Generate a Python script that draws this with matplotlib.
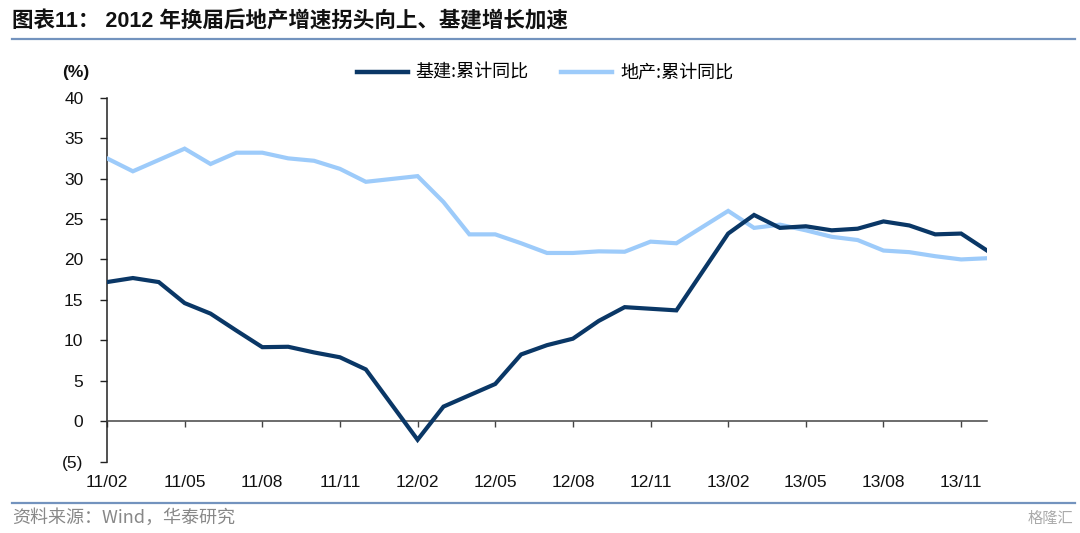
import numpy as np
import matplotlib
matplotlib.use("Agg")
import matplotlib.pyplot as plt
from matplotlib.lines import Line2D

plt.rcParams['font.family'] = ['Liberation Sans', 'Noto Sans CJK SC', 'DejaVu Sans']

# Monthly positions 11/02 .. 13/12 (January values not published -> NaN)
months = ['11/02','11/03','11/04','11/05','11/06','11/07','11/08','11/09','11/10','11/11','11/12',
          '12/01','12/02','12/03','12/04','12/05','12/06','12/07','12/08','12/09','12/10','12/11','12/12',
          '13/01','13/02','13/03','13/04','13/05','13/06','13/07','13/08','13/09','13/10','13/11','13/12']
infra = [17.2, 17.7, 17.2, 14.6, 13.3, 11.2, 9.15, 9.2, 8.5, 7.9, 6.4,
         np.nan, -2.3, 1.8, 3.2, 4.6, 8.25, 9.4, 10.2, 12.4, 14.1, 13.9, 13.7,
         np.nan, 23.2, 25.5, 23.9, 24.1, 23.6, 23.8, 24.7, 24.2, 23.1, 23.2, 21.1]
realty = [32.5, 30.9, 32.3, 33.7, 31.8, 33.2, 33.2, 32.5, 32.2, 31.2, 29.6,
          np.nan, 30.3, 27.1, 23.1, 23.1, 22.0, 20.8, 20.8, 21.0, 20.95, 22.2, 22.0,
          np.nan, 26.0, 23.9, 24.3, 23.6, 22.8, 22.4, 21.1, 20.9, 20.4, 20.0, 20.15]
yticks = [-5, 0, 5, 10, 15, 20, 25, 30, 35, 40]
ytick_labels = ['(5)', '0', '5', '10', '15', '20', '25', '30', '35', '40']
series_names = ['基建:累计同比', '地产:累计同比']

c_dark = '#0A3766'
c_light = '#9DCBFA'

fig = plt.figure(figsize=(10.8, 5.33), dpi=100)
ax = fig.add_axes([107/1080, 1-461.6/533, (987-107)/1080, (461.6-97.7)/533])

x = np.arange(len(months))
inf = np.array(infra, dtype=float)
rea = np.array(realty, dtype=float)
m1 = ~np.isnan(inf)
m2 = ~np.isnan(rea)
ax.plot(x[m2], rea[m2], color=c_light, lw=3.0, solid_joinstyle='miter', zorder=3)
ax.plot(x[m1], inf[m1], color=c_dark, lw=3.0, solid_joinstyle='miter', zorder=4)

ax.set_xlim(0, len(months)-1)
ax.set_ylim(-5, 40)

for s in ['top', 'right']:
    ax.spines[s].set_visible(False)
ax.spines['bottom'].set_position(('data', 0))
ax.spines['bottom'].set_color('#444444')
ax.spines['left'].set_color('#222222')
ax.spines['bottom'].set_linewidth(1.1)
ax.spines['left'].set_linewidth(1.1)
ax.tick_params(axis='y', direction='out', length=5, width=1, color='#222222', pad=12,
               labelsize=12.5, labelcolor='#111111')
ax.tick_params(axis='x', direction='out', length=4, width=1, color='#444444', pad=35,
               labelsize=12.5, labelcolor='#111111')

ax.set_yticks(yticks)
ax.set_yticklabels(ytick_labels, fontsize=12.5)
ax.set_xticks(x[::3])
ax.set_xticklabels([months[i] for i in x[::3]], fontsize=12.5)

fig.text(89/1080, 1-72.5/533, '(%)', fontsize=12.5, fontweight='bold', ha='right', va='center', color='#111111')

handles = [Line2D([0], [0], color=c_dark, lw=3.2), Line2D([0], [0], color=c_light, lw=3.2)]
fig.legend(handles, series_names, loc='center', bbox_to_anchor=(545/1080, 1-73/533), ncol=2,
           frameon=False, handlelength=2.8, handletextpad=0.45, columnspacing=1.8,
           prop={'family': ['Noto Sans CJK SC', 'DejaVu Sans'], 'size': 13})

# Title and separators
fig.text(12/1080, 1-22/533, '图表11： 2012 年换届后地产增速拐头向上、基建增长加速', fontsize=15.5,
         fontweight='bold', ha='left', va='center', color='#111111',
         family=['Liberation Sans', 'Noto Sans CJK SC', 'DejaVu Sans'])
fig.add_artist(Line2D([12/1080, 1075/1080], [1-39/533, 1-39/533], color='#7393BE', lw=1.6))
fig.add_artist(Line2D([12/1080, 1075/1080], [1-503/533, 1-503/533], color='#7393BE', lw=1.6))
fig.text(12/1080, 1-518/533, '资料来源：Wind，华泰研究', fontsize=13, ha='left', va='center', color='#888888',
         family=['Noto Sans CJK SC', 'DejaVu Sans'])
fig.text(1073/1080, 1-518/533, '格隆汇', fontsize=11, ha='right', va='center', color='#aaaaaa',
         family=['Noto Sans CJK SC', 'DejaVu Sans'])

fig.savefig('out.png', dpi=100)
